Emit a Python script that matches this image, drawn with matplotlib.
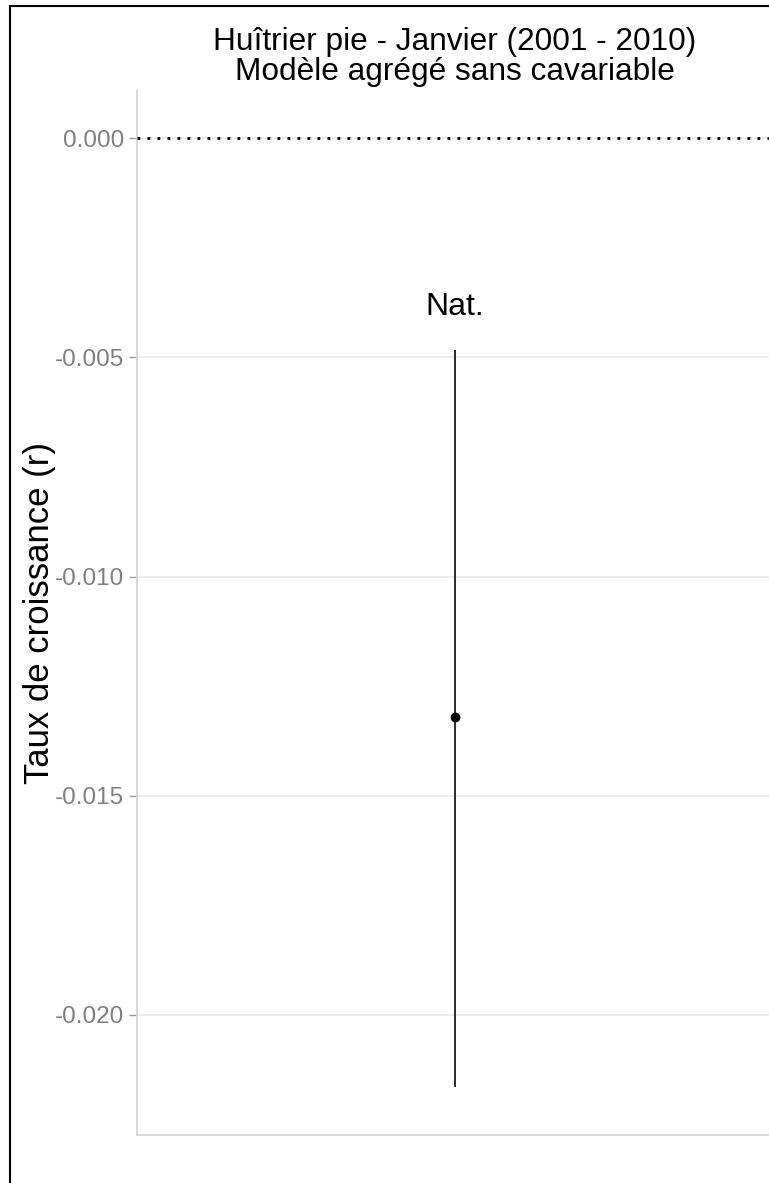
import matplotlib
matplotlib.use("Agg")
import matplotlib.pyplot as plt
from matplotlib.patches import Rectangle

# Data
categories = ["Nat."]
estimates = [-0.0132]
ci_low = [-0.02164]
ci_high = [-0.00483]
label_y = [-0.00385]
yticks = [0.000, -0.005, -0.010, -0.015, -0.020]
ytick_labels = ["0.000", "-0.005", "-0.010", "-0.015", "-0.020"]
title_lines = ["Huîtrier pie - Janvier (2001 - 2010)", "Modèle agrégé sans cavariable"]
ylabel = "Taux de croissance (r)"

plt.rcParams['font.family'] = ['Liberation Sans', 'DejaVu Sans']

W, H = 769, 1183
fig = plt.figure(figsize=(W / 100, H / 100), dpi=100)

left_px, right_px, top_px, bottom_px = 137, 773, 90, 1135
ax = fig.add_axes([left_px / W, 1 - bottom_px / H, (right_px - left_px) / W, (bottom_px - top_px) / H])

xs = list(range(1, len(categories) + 1))
ax.set_xlim(0.4, len(categories) + 0.6)
ax.set_ylim(-0.022737, 0.001095)

ax.set_yticks(yticks)
ax.set_yticklabels(ytick_labels)
ax.grid(axis='y', color='#e8e8e8', lw=1.1)
ax.set_axisbelow(True)
ax.axhline(0, color='black', lw=2.0, linestyle=(0, (1, 2.6)), zorder=3)

for x, est, lo, hi, ly, cat in zip(xs, estimates, ci_low, ci_high, label_y, categories):
    ax.vlines(x, lo, hi, color='#2a2a2a', lw=1.4, zorder=4)
    ax.plot([x], [est], marker='o', color='black', markersize=6, zorder=5)
    ax.text(x, ly, cat, ha='center', va='center', fontsize=23, color='black')

ax.set_xticks([])
ax.tick_params(axis='y', colors='#999999', length=5.5, width=1.0, pad=3.5,
               labelsize=17.5, labelcolor='#7f7f7f')
for s in ['top', 'right']:
    ax.spines[s].set_visible(False)
for s in ['left', 'bottom']:
    ax.spines[s].set_color('#d6d6d6')
    ax.spines[s].set_linewidth(1.3)

cx = (left_px + right_px) / 2 / W
fig.text(cx, 1 - 50 / H, title_lines[0], ha='center', va='baseline', fontsize=22.8)
fig.text(cx, 1 - 80 / H, title_lines[1], ha='center', va='baseline', fontsize=22.8)
fig.text(40 / W, 1 - 613 / H, ylabel, rotation=90, ha='center', va='center', fontsize=25)

fig.patches.append(Rectangle((10 / W, -0.1), 1.2, 1 - 6 / H + 0.1, transform=fig.transFigure,
                             fill=False, edgecolor='black', lw=1.5))

fig.savefig("out.png", dpi=100)
